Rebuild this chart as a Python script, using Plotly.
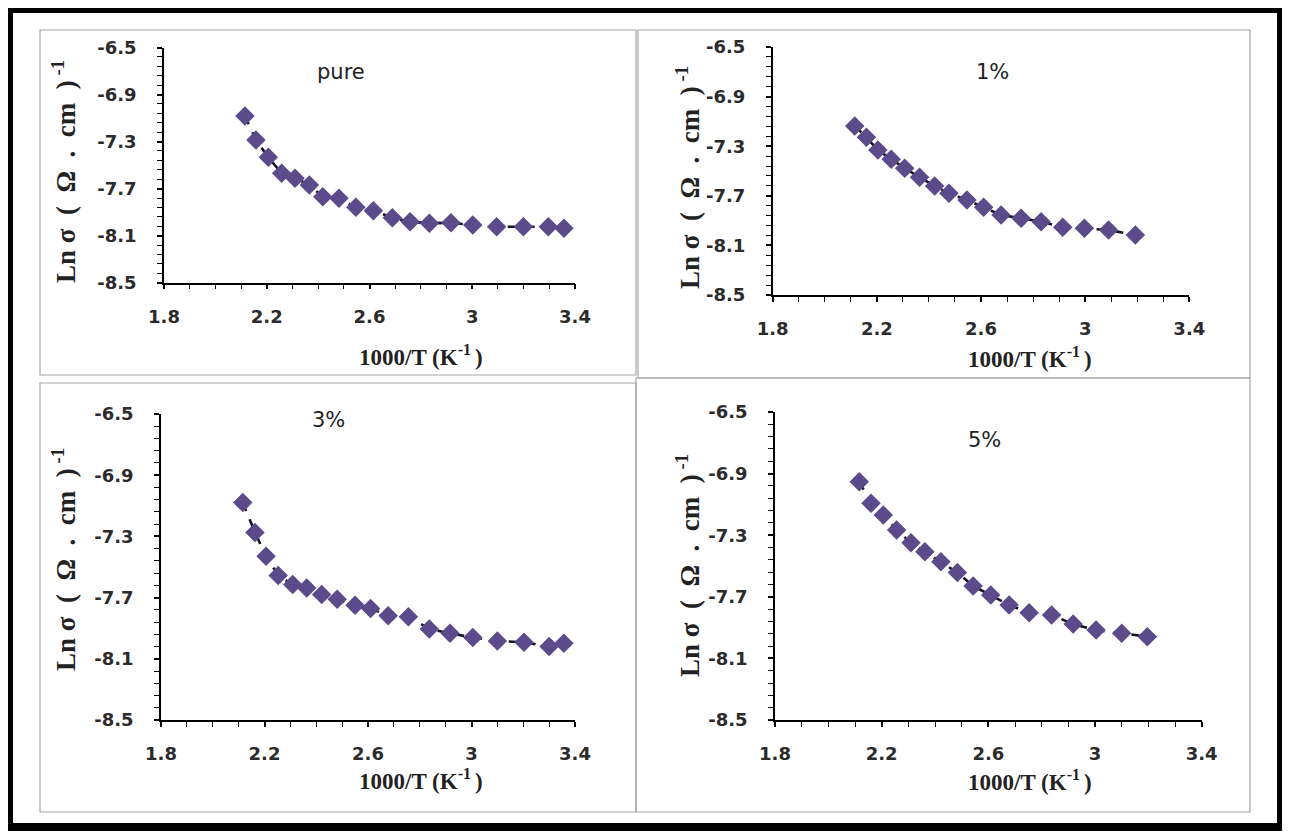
import plotly.graph_objects as go

# the page body adds an 8 px margin; the figure covers the window from (8, 8)
OFF = 8
W, H = 1290 - OFF, 836 - OFF

# ---------------- data ----------------
x_pure = [2.115, 2.158, 2.206, 2.258, 2.31, 2.366, 2.418, 2.481, 2.547, 2.615,
          2.689, 2.758, 2.833, 2.917, 3.002, 3.095, 3.199, 3.296, 3.357]
y_pure = [-7.082, -7.287, -7.434, -7.57, -7.612, -7.669, -7.769, -7.782, -7.859, -7.888,
          -7.947, -7.981, -7.995, -7.99, -8.009, -8.024, -8.024, -8.024, -8.037]

x_1 = [2.115, 2.16, 2.204, 2.255, 2.307, 2.364, 2.422, 2.477, 2.546, 2.61,
       2.677, 2.754, 2.831, 2.914, 2.997, 3.09, 3.193]
y_1 = [-7.137, -7.228, -7.331, -7.406, -7.478, -7.551, -7.621, -7.68, -7.734, -7.793,
       -7.855, -7.881, -7.909, -7.954, -7.962, -7.976, -8.016]

x_3 = [2.116, 2.163, 2.206, 2.253, 2.309, 2.363, 2.421, 2.481, 2.55, 2.61,
       2.678, 2.756, 2.837, 2.917, 3.005, 3.1, 3.203, 3.3, 3.357]
y_3 = [-7.079, -7.274, -7.429, -7.555, -7.615, -7.637, -7.68, -7.711, -7.75, -7.771,
       -7.818, -7.825, -7.905, -7.933, -7.961, -7.983, -7.992, -8.019, -7.998]

x_5 = [2.116, 2.16, 2.206, 2.256, 2.31, 2.362, 2.422, 2.484, 2.543, 2.609,
       2.678, 2.753, 2.837, 2.918, 3.004, 3.1, 3.196]
y_5 = [-6.953, -7.093, -7.169, -7.266, -7.349, -7.407, -7.472, -7.543, -7.63, -7.688,
       -7.753, -7.803, -7.818, -7.877, -7.916, -7.937, -7.959]

panel_labels = ["pure", "1%", "3%", "5%"]
x_tickvals = [1.8, 2.2, 2.6, 3.0, 3.4]
x_ticktext = ["1.8", "2.2", "2.6", "3", "3.4"]
y_tickvals = [-8.5, -8.1, -7.7, -7.3, -6.9, -6.5]
y_ticktext = ["-8.5", "-8.1", "-7.7", "-7.3", "-6.9", "-6.5"]
x_title = "1000/T (K<sup>-1 </sup>)"
y_title = "Ln σ  (  Ω  .  cm  )<sup> -1</sup>"

series = [(x_pure, y_pure), (x_1, y_1), (x_3, y_3), (x_5, y_5)]

# ---------------- layout geometry (window pixels) ----------------
# plot area: left, right, top, bottom
plots = [
    (164, 575, 47.5, 282.7),
    (772.7, 1189.3, 47, 295),
    (161, 575, 414, 720),
    (775, 1201.7, 412, 720),
]
boxes = [
    (40, 636, 30, 375),
    (638, 1250, 30, 378),
    (40, 636, 383, 812),
    (636, 1250, 378, 812),
]
label_pos = [(341, 72), (992, 72), (328, 420), (985, 440)]
ytitle_pos = [(64, 172), (688, 178), (64, 560), (688, 566)]
xtitle_pos = [(421, 355), (1030, 357), (421, 779), (1030, 780)]


def px(x):
    return (x - OFF) / W


def py(y):
    return 1 - (y - OFF) / H


fig = go.Figure()
layout = dict(
    template="none",
    width=W, height=H, autosize=False,
    margin=dict(l=0, r=0, t=0, b=0, pad=0, autoexpand=False),
    paper_bgcolor="white", plot_bgcolor="white",
    showlegend=False,
)

tickfont = dict(family="DejaVu Sans", size=18, color="#2b2b2b", weight="bold")

shapes = []
annotations = []
for i, ((xs, ys), (l, r, t, b)) in enumerate(zip(series, plots)):
    n = i + 1
    xa = "x" if n == 1 else f"x{n}"
    ya = "y" if n == 1 else f"y{n}"
    fig.add_trace(go.Scatter(
        x=xs, y=ys, xaxis=xa, yaxis=ya, mode="lines+markers",
        line=dict(color="#16131f", width=2.6, dash="dash"),
        marker=dict(symbol="diamond", size=15, color="#5c4b8b",
                    line=dict(width=0)),
    ))
    layout["xaxis" if n == 1 else f"xaxis{n}"] = dict(
        domain=[px(l), px(r)], anchor=ya, range=[1.8, 3.4], automargin=False,
        tickvals=x_tickvals, ticktext=x_ticktext,
        showline=True, linecolor="black", linewidth=1.5,
        ticks="outside", ticklen=5, tickwidth=1.5, tickcolor="black",
        minor=dict(ticks="outside", ticklen=5, tickwidth=1.2, tickcolor="black",
                   tick0=1.8, dtick=0.1, showgrid=False),
        showgrid=False, zeroline=False, tickfont=tickfont,
        ticklabelstandoff=12, fixedrange=True,
    )
    layout["yaxis" if n == 1 else f"yaxis{n}"] = dict(
        domain=[py(b), py(t)], anchor=xa, range=[-8.5, -6.5], automargin=False,
        tickvals=y_tickvals, ticktext=y_ticktext,
        showline=True, linecolor="black", linewidth=1.5,
        ticks="outside", ticklen=5, tickwidth=1.5, tickcolor="black",
        minor=dict(ticks="outside", ticklen=5, tickwidth=1.2, tickcolor="black",
                   tick0=-6.5, dtick=0.08, showgrid=False),
        showgrid=False, zeroline=False, tickfont=tickfont,
        ticklabelstandoff=17, fixedrange=True,
    )
    bl, br, bt, bb = boxes[i]
    shapes.append(dict(type="rect", xref="paper", yref="paper",
                       x0=px(bl), x1=px(br), y0=py(bb), y1=py(bt),
                       line=dict(color="#a6a6a6", width=1.2), layer="below"))
    lx, ly = label_pos[i]
    annotations.append(dict(xref="paper", yref="paper", x=px(lx), y=py(ly),
                            xanchor="center", yanchor="middle",
                            text=panel_labels[i], showarrow=False,
                            font=dict(family="DejaVu Sans", size=21, color="#222222")))
    tx, ty = ytitle_pos[i]
    annotations.append(dict(xref="paper", yref="paper", x=px(tx), y=py(ty),
                            xanchor="center", yanchor="middle",
                            text=y_title, textangle=-90, showarrow=False,
                            font=dict(family="Liberation Serif", size=27,
                                      color="#222222", weight="bold")))
    qx, qy = xtitle_pos[i]
    annotations.append(dict(xref="paper", yref="paper", x=px(qx), y=py(qy),
                            xanchor="center", yanchor="middle",
                            text=x_title, showarrow=False,
                            font=dict(family="Liberation Serif", size=23,
                                      color="#222222", weight="bold")))

# thick outer black frame
shapes.append(dict(type="rect", xref="paper", yref="paper",
                   x0=px(9), x1=px(1281), y0=py(827), y1=py(9),
                   line=dict(color="black", width=8)))

layout["shapes"] = shapes
layout["annotations"] = annotations
fig.update_layout(**layout)
fig.write_html("out.html")
